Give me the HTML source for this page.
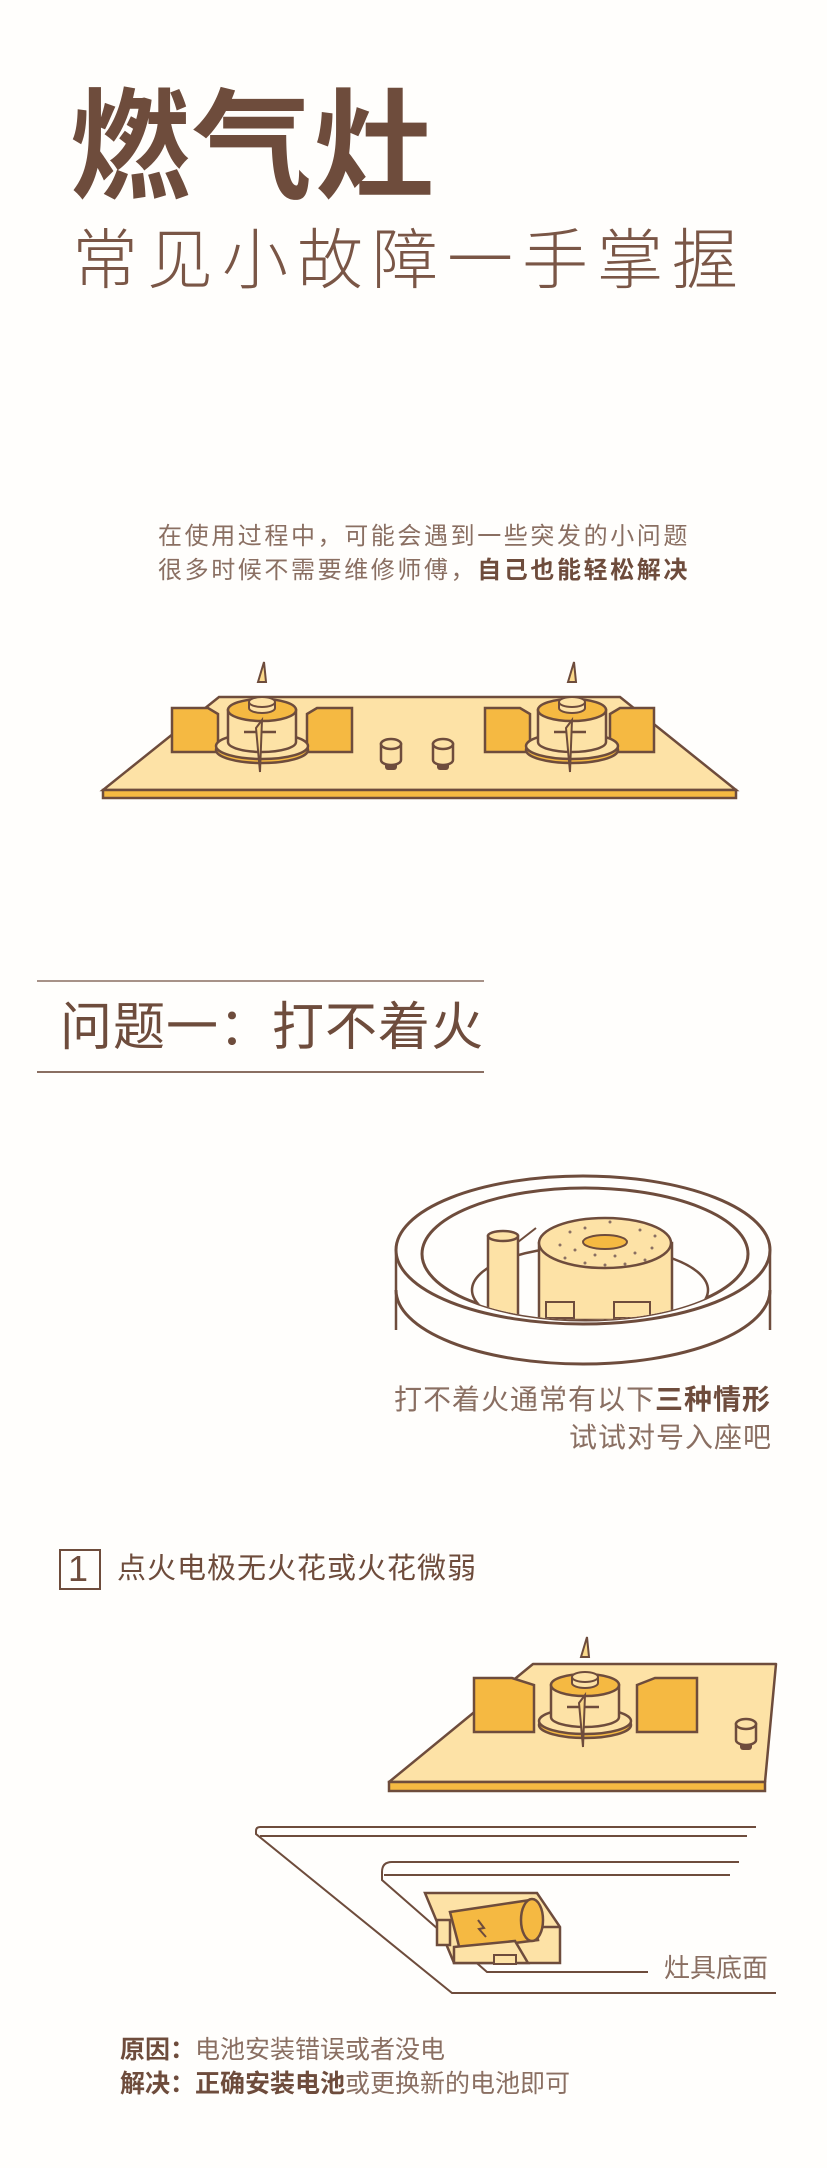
<!DOCTYPE html>
<html><head><meta charset="utf-8">
<style>
html,body{margin:0;padding:0;background:#fffefc;}
body{width:827px;height:2168px;position:relative;overflow:hidden;font-family:"Liberation Sans","Noto Sans CJK SC",sans-serif;color:#6e4c3c;}
.t{position:absolute;white-space:nowrap;line-height:1;}
svg{position:absolute;left:0;top:0;}
</style></head><body>
<div class="t" style="left:70px;top:88px;font-size:120px;font-weight:bold;color:#6e4c3c;letter-spacing:2px;">燃气灶</div>
<div class="t" style="left:72px;top:227px;font-size:66px;font-weight:300;color:#7a5646;letter-spacing:9px;">常见小故障一手掌握</div>
<div class="t" style="left:158px;top:525px;font-size:24px;color:#8a6f62;letter-spacing:2.6px;">在使用过程中，可能会遇到一些突发的小问题</div>
<div class="t" style="left:158px;top:559px;font-size:24px;color:#8a6f62;letter-spacing:2.6px;">很多时候不需要维修师傅，<b style="color:#6e4c3c">自己也能轻松解决</b></div>

<div class="t" style="left:60px;top:1002px;font-size:52px;color:#6e4c3c;letter-spacing:1px;">问题一：打不着火</div>
<div class="t" style="left:394px;top:1386px;font-size:28px;color:#8a6f62;letter-spacing:1px;">打不着火通常有以下<b style="color:#6e4c3c">三种情形</b></div>
<div class="t" style="left:569px;top:1424px;font-size:28px;color:#8a6f62;letter-spacing:1px;">试试对号入座吧</div>

<div style="position:absolute;left:59px;top:1549px;width:38px;height:37px;border:2.5px solid #6e4c3c;"></div>
<div class="t" style="left:68px;top:1551px;font-size:36px;color:#6e4c3c;">1</div>
<div class="t" style="left:117px;top:1555px;font-size:29px;color:#6e4c3c;letter-spacing:1px;">点火电极无火花或火花微弱</div>
<div class="t" style="left:664px;top:1955px;font-size:26px;color:#8a6f62;">灶具底面</div>
<div class="t" style="left:120px;top:2038px;font-size:25px;color:#8a6f62;"><b style="color:#6e4c3c">原因：</b>电池安装错误或者没电</div>
<div class="t" style="left:120px;top:2072px;font-size:25px;color:#8a6f62;"><b style="color:#6e4c3c">解决：正确安装电池</b>或更换新的电池即可</div>

<svg width="827" height="2168" viewBox="0 0 827 2168">
<defs>
<g id="burner">
 <path d="M-4,-38 L2,-58 L4,-38 Z" fill="#fbd98a" stroke="#6e4c3c" stroke-width="2"/>
 <ellipse cx="0" cy="30" rx="46" ry="13" fill="#f5b942" stroke="#6e4c3c" stroke-width="2.5"/>
 <ellipse cx="0" cy="26" rx="46" ry="13" fill="#fde2a6" stroke="#6e4c3c" stroke-width="2.5"/>
 <path d="M-34,-10 L-34,22 A34,10 0 0 0 34,22 L34,-10 Z" fill="#fde2a6" stroke="#6e4c3c" stroke-width="2.5"/>
 <ellipse cx="0" cy="-10" rx="34" ry="11" fill="#f5b942" stroke="#6e4c3c" stroke-width="2.5"/>
 <path d="M-13,-18 L-13,-12 A13,5 0 0 0 13,-12 L13,-18" fill="#fde2a6" stroke="#6e4c3c" stroke-width="2"/>
 <ellipse cx="0" cy="-18" rx="13" ry="5" fill="#fde2a6" stroke="#6e4c3c" stroke-width="2"/>
 <line x1="-18" y1="12" x2="14" y2="12" stroke="#6e4c3c" stroke-width="2.5"/>
 <path d="M-6,8 L0,0 L-2,52 Z" fill="#fbd98a" stroke="#6e4c3c" stroke-width="2"/>
</g>
<g id="knob">
 <rect x="-6" y="10" width="12" height="8" rx="3" fill="#6e4c3c"/>
 <path d="M-10,-8 L-10,8 A10,5 0 0 0 10,8 L10,-8 Z" fill="#fde2a6" stroke="#6e4c3c" stroke-width="2.5"/>
 <ellipse cx="0" cy="-8" rx="10" ry="5" fill="#fde2a6" stroke="#6e4c3c" stroke-width="2.5"/>
</g>
<clipPath id="inner"><ellipse cx="585" cy="1254" rx="163" ry="66"/></clipPath>
</defs>

<!-- stove 1 -->
<path d="M219,697 L620,697 L736,790 L103,790 Z" fill="#fde2a6" stroke="#6e4c3c" stroke-width="2.5"/>
<rect x="103" y="790" width="633" height="8" fill="#f5b942" stroke="#6e4c3c" stroke-width="2.5"/>
<path d="M172,708 L208,708 L218,714 L218,752 L172,752 Z" fill="#f5b942" stroke="#6e4c3c" stroke-width="2.5"/>
<path d="M307,714 L317,708 L352,708 L352,752 L307,752 Z" fill="#f5b942" stroke="#6e4c3c" stroke-width="2.5"/>
<use href="#burner" x="262" y="720"/>
<path d="M485,708 L520,708 L530,714 L530,752 L485,752 Z" fill="#f5b942" stroke="#6e4c3c" stroke-width="2.5"/>
<path d="M610,714 L620,708 L654,708 L654,752 L610,752 Z" fill="#f5b942" stroke="#6e4c3c" stroke-width="2.5"/>
<use href="#burner" x="572" y="720"/>
<use href="#knob" x="391" y="752"/>
<use href="#knob" x="443" y="752"/>

<!-- header lines -->
<line x1="37" y1="981" x2="484" y2="981" stroke="#8a6f62" stroke-width="1.5"/>
<line x1="37" y1="1072" x2="484" y2="1072" stroke="#8a6f62" stroke-width="2"/>

<!-- ring -->
<path d="M396,1250 L396,1330" stroke="#6e4c3c" stroke-width="2.5" fill="none"/>
<path d="M770,1250 L770,1330" stroke="#6e4c3c" stroke-width="2.5" fill="none"/>
<path d="M396,1290 A187,74 0 0 0 770,1290" fill="none" stroke="#6e4c3c" stroke-width="3"/>
<ellipse cx="583" cy="1250" rx="187" ry="74" fill="#fffefc" stroke="#6e4c3c" stroke-width="3"/>
<ellipse cx="585" cy="1254" rx="163" ry="66" fill="#fffefc" stroke="#6e4c3c" stroke-width="3"/>
<g clip-path="url(#inner)">
 <ellipse cx="590" cy="1290" rx="118" ry="44" fill="#fffefc" stroke="#6e4c3c" stroke-width="2.5"/>
 <path d="M539,1243 L539,1320 L672,1320 L672,1243 Z" fill="#fde2a6" stroke="#6e4c3c" stroke-width="2.5"/>
 <ellipse cx="605" cy="1243" rx="66" ry="25" fill="#fde2a6" stroke="#6e4c3c" stroke-width="2.5"/>
 <g fill="#8a6f62">
  <circle cx="570" cy="1232" r="1.5"/><circle cx="585" cy="1228" r="1.5"/><circle cx="640" cy="1230" r="1.5"/><circle cx="655" cy="1236" r="1.5"/>
  <circle cx="560" cy="1245" r="1.5"/><circle cx="575" cy="1250" r="1.5"/><circle cx="595" cy="1255" r="1.5"/><circle cx="615" cy="1256" r="1.5"/><circle cx="635" cy="1253" r="1.5"/><circle cx="652" cy="1248" r="1.5"/>
  <circle cx="565" cy="1258" r="1.5"/><circle cx="585" cy="1263" r="1.5"/><circle cx="605" cy="1265" r="1.5"/><circle cx="625" cy="1264" r="1.5"/><circle cx="645" cy="1260" r="1.5"/><circle cx="610" cy="1222" r="1.5"/>
 </g>
 <ellipse cx="605" cy="1242" rx="22" ry="7" fill="#f5b942" stroke="#6e4c3c" stroke-width="2"/>
 <rect x="546" y="1302" width="28" height="16" fill="none" stroke="#6e4c3c" stroke-width="2"/>
 <rect x="614" y="1302" width="36" height="16" fill="none" stroke="#6e4c3c" stroke-width="2"/>
 <path d="M488,1236 L488,1330 L518,1330 L518,1236 Z" fill="#fde2a6" stroke="#6e4c3c" stroke-width="2.5"/>
 <ellipse cx="503" cy="1236" rx="15" ry="5" fill="#fde2a6" stroke="#6e4c3c" stroke-width="2.5"/>
 <line x1="518" y1="1242" x2="536" y2="1228" stroke="#6e4c3c" stroke-width="2"/>
</g>

<!-- stove 2 -->
<path d="M533,1664 L776,1664 L765,1782 L389,1782 Z" fill="#fde2a6" stroke="#6e4c3c" stroke-width="2.5" stroke-linejoin="round"/>
<rect x="389" y="1782" width="376" height="9" fill="#f5b942" stroke="#6e4c3c" stroke-width="2.5"/>
<path d="M474,1678 L512,1678 L534,1685 L534,1732 L474,1732 Z" fill="#f5b942" stroke="#6e4c3c" stroke-width="2.5"/>
<path d="M637,1685 L655,1678 L697,1678 L697,1732 L637,1732 Z" fill="#f5b942" stroke="#6e4c3c" stroke-width="2.5"/>
<use href="#burner" x="585" y="1695"/>
<use href="#knob" x="746" y="1732"/>

<!-- bottom view -->
<g fill="none" stroke="#6e4c3c" stroke-width="2">
 <path d="M756,1827 L260,1827 Q256,1827 256,1831 L256,1834 L452,1993 L776,1993"/>
 <line x1="260" y1="1836" x2="747" y2="1836"/>
 <path d="M739,1862 L392,1862 Q382,1862 382,1872 L382,1880 L487,1972 L648,1972"/>
 <line x1="384" y1="1875" x2="730" y2="1875"/>
</g>
<!-- battery box -->
<path d="M425,1893 L537,1893 L560,1927 L560,1963 L454,1963 Z" fill="#fde2a6" stroke="#6e4c3c" stroke-width="2.5"/>
<path d="M520,1927 L560,1927" stroke="#6e4c3c" stroke-width="2.5"/>
<path d="M437,1920 L437,1945 L450,1945 L450,1920 Z" fill="#fde2a6" stroke="#6e4c3c" stroke-width="2.5"/>
<path d="M450,1912 L530,1900 L538,1940 L460,1950 Z" fill="#f5b942" stroke="#6e4c3c" stroke-width="2.5"/>
<ellipse cx="532" cy="1920" rx="11" ry="21" fill="#f5b942" stroke="#6e4c3c" stroke-width="2.5"/>
<path d="M478,1920 L484,1928 L479,1929 L486,1937" fill="none" stroke="#6e4c3c" stroke-width="2"/>
<path d="M454,1947 L515,1941 L528,1963 L454,1963 Z" fill="#fde2a6" stroke="#6e4c3c" stroke-width="2.5"/>
<rect x="494" y="1955" width="22" height="9" fill="#fde2a6" stroke="#6e4c3c" stroke-width="2"/>
</svg>
</body></html>
